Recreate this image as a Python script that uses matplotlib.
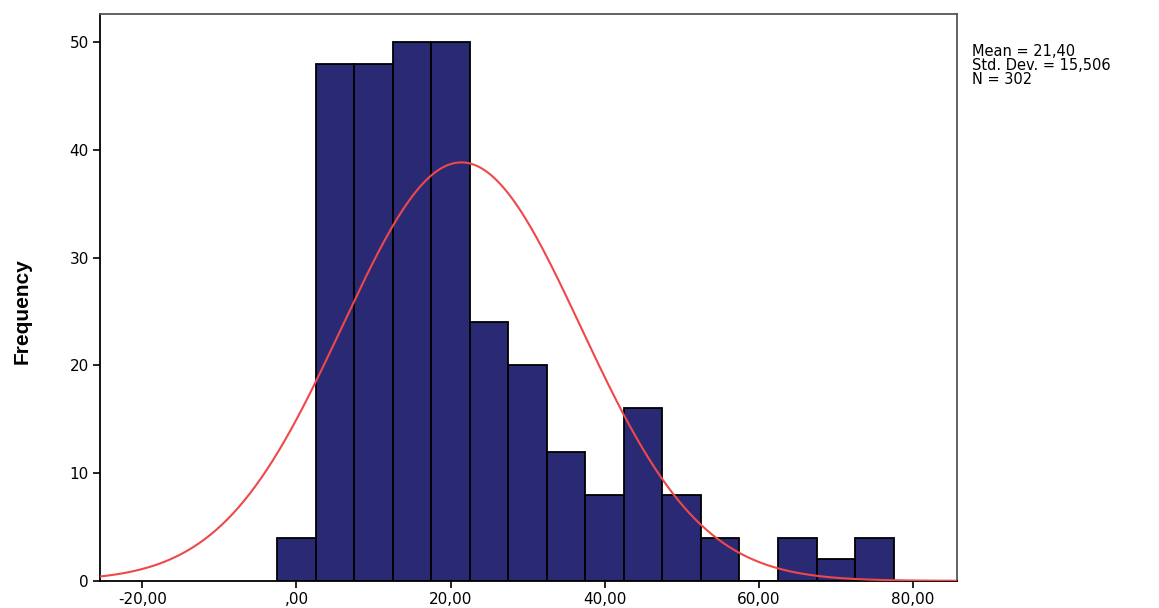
import numpy as np
import matplotlib
matplotlib.use("Agg")
import matplotlib.pyplot as plt
from matplotlib import font_manager

# Histogram bins (width 5) and their counts
bin_edges = [-2.5, 2.5, 7.5, 12.5, 17.5, 22.5, 27.5, 32.5, 37.5, 42.5,
             47.5, 52.5, 57.5, 62.5, 67.5, 72.5, 77.5]
counts = [4, 48, 48, 50, 50, 24, 20, 12, 8, 16, 8, 4, 0, 4, 2, 4]

mean = 21.40
std_dev = 15.506
n_obs = 302

x_ticks = [-20, 0, 20, 40, 60, 80]
x_tick_labels = ["-20,00", ",00", "20,00", "40,00", "60,00", "80,00"]
y_ticks = [0, 10, 20, 30, 40, 50]

names = {f.name for f in font_manager.fontManager.ttflist}
narrow_font = "Liberation Sans Narrow" if "Liberation Sans Narrow" in names else "Liberation Sans"
plt.rcParams["font.family"] = ["DejaVu Sans"]

fig = plt.figure(figsize=(11.59, 6.08), dpi=100)
ax = fig.add_axes([0.0863, 0.0447, 0.7392, 0.9318])

lefts = bin_edges[:-1]
widths = np.diff(bin_edges)
ax.bar(lefts, counts, width=widths, align="edge", color="#292a73",
       edgecolor="black", linewidth=1.3, zorder=2)

# Normal curve scaled to the histogram
bin_width = widths[0]
xs = np.linspace(-25.5, 85.7, 600)
ys = n_obs * bin_width / (std_dev * np.sqrt(2 * np.pi)) * np.exp(-0.5 * ((xs - mean) / std_dev) ** 2)
ax.plot(xs, ys, color="#f0474a", linewidth=1.5, zorder=3)

ax.set_xlim(-25.5, 85.7)
ax.set_ylim(0, 52.6)
ax.set_xticks(x_ticks)
ax.set_xticklabels(x_tick_labels)
ax.set_yticks(y_ticks)
ax.tick_params(axis="both", direction="out", length=5, width=1.2,
               labelsize=11, colors="black", pad=3)

for side in ["left", "bottom"]:
    ax.spines[side].set_color("black")
    ax.spines[side].set_linewidth(1.3)
for side in ["top", "right"]:
    ax.spines[side].set_color("#555555")
    ax.spines[side].set_linewidth(1.3)

fig.text(0.019, 0.489, "Frequency", rotation=90, ha="center", va="center",
         fontsize=15, fontweight="bold", family=[narrow_font, "DejaVu Sans"])

fig.text(0.8385, 0.928, "Mean = 21,40\nStd. Dev. = 15,506\nN = 302",
         ha="left", va="top", fontsize=10.5, linespacing=0.92)

fig.savefig("out.png", dpi=100)
